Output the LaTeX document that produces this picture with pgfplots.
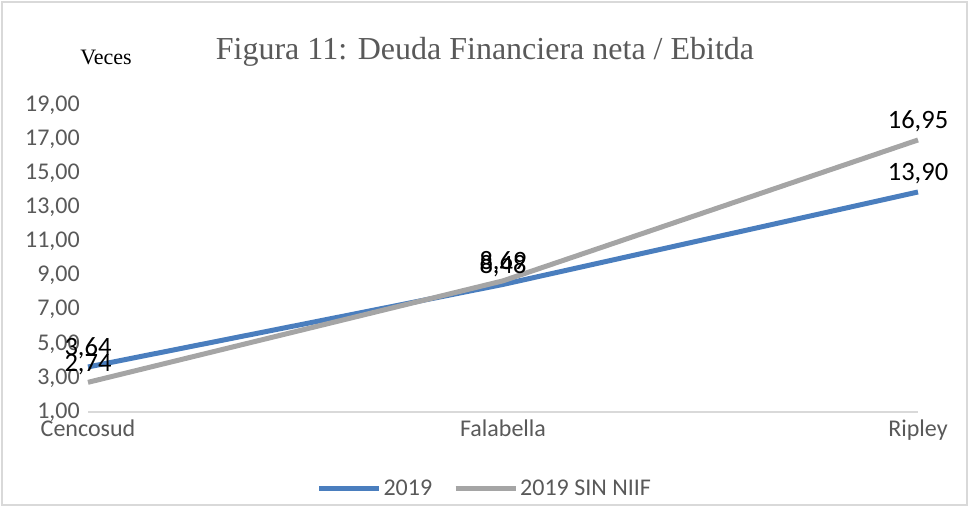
\documentclass[border=0pt]{standalone}
\usepackage{fontspec}
\setmainfont{Carlito}
\newfontfamily\timesf{Liberation Serif}
\usepackage{pgfplots}
\pgfplotsset{compat=1.18}
\definecolor{serblue}{HTML}{4A7EBE}
\definecolor{sergray}{HTML}{A5A5A5}
\definecolor{txtgray}{HTML}{595959}
\definecolor{framegray}{HTML}{D9D9D9}

\begin{document}
\begin{tikzpicture}[x=1pt,y=1pt]
\path (0,0) rectangle (969,507);
\draw[framegray, line width=1.2pt] (2,2) rectangle (967,505);
\begin{axis}[
  at={(88pt,95pt)}, anchor=south west,
  scale only axis,
  width=830pt, height=307pt,
  xmin=0, xmax=2, ymin=1, ymax=19,
  xtick={0,1,2},
  xticklabels={Cencosud, Falabella, Ripley},
  ytick={1,3,...,19},
  /pgf/number format/fixed,
  /pgf/number format/fixed zerofill,
  /pgf/number format/precision=2,
  /pgf/number format/use comma,
  /pgf/number format/assume math mode=true,
  yticklabel style={anchor=east, inner sep=0pt, xshift=-8pt, text=txtgray, font=\fontsize{24}{28}\selectfont},
  xticklabel style={anchor=north, inner sep=0pt, yshift=-8pt, text=txtgray, font=\fontsize{24}{28}\selectfont},
  major tick length=0pt,
  axis x line*=bottom, axis y line*=left,
  x axis line style={-, draw=framegray, line width=1.2pt},
  y axis line style={draw=none},
  clip=false,
  nodes near coords,
  point meta=explicit symbolic,
  every node near coord/.append style={font=\fontsize{26.5}{30}\selectfont, text=black, anchor=base, inner sep=0pt, yshift=11pt},
  legend columns=2,
  legend style={at={(0.478,-0.2476)}, anchor=center, draw=none, fill=none,
    font=\fontsize{24}{28}\selectfont, text=txtgray,
    /tikz/every even column/.append style={column sep=19pt}},
  legend image code/.code={\draw[#1] (0pt,0pt) -- (60pt,0pt);},
]
\addplot[serblue, line width=5pt, line cap=butt] coordinates {
  (0, 3.64) [3,64]
  (1, 8.48) [8,48]
  (2, 13.90) [13,90]
};
\addlegendentry{2019}
\addplot[sergray, line width=5pt, line cap=butt] coordinates {
  (0, 2.74) [2,74]
  (1, 8.69) [8,69]
  (2, 16.95) [16,95]
};
\addlegendentry{2019 SIN NIIF}
\end{axis}
\node[font=\timesf\fontsize{32}{36}\selectfont, text=txtgray] at (485,455) {Figura 11: Deuda Financiera neta / Ebitda};
\node[font=\timesf\fontsize{22}{25}\selectfont, text=black] at (106,450) {Veces};
\end{tikzpicture}
\end{document}
